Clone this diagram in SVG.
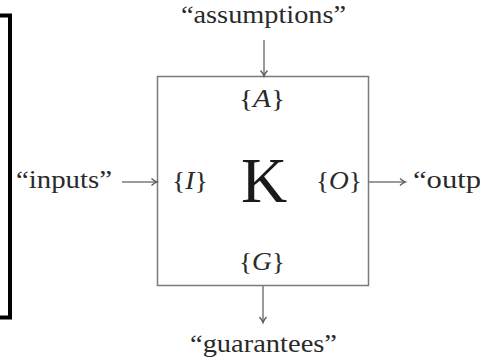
<svg xmlns="http://www.w3.org/2000/svg" width="480" height="359" viewBox="0 0 480 359">
<style>
.lbl{font-family:"Liberation Serif","DejaVu Serif",serif;font-size:25px;fill:#2a2a2a}
.m{font-style:italic}
.ln{stroke:#7a7a7a;stroke-width:1.5;fill:none}
</style>
<defs>
<marker id="ah" markerWidth="10" markerHeight="10" refX="6" refY="5" orient="auto" markerUnits="userSpaceOnUse">
<path d="M1,1.5 Q4,4.2 6.5,5 Q4,5.8 1,8.5" fill="none" stroke="#555" stroke-width="1.3"/>
</marker>
</defs>
<rect width="480" height="359" fill="#fff"/>
<g id="bracket">
<path d="M0,15.5 H10 V317.5 H0" fill="none" stroke="#000" stroke-width="4"/>
</g>
<g id="K">
<rect class="ln" x="157.5" y="76.5" width="211" height="209"/>
<text class="lbl" x="262" y="107" text-anchor="middle" textLength="46" lengthAdjust="spacingAndGlyphs">{<tspan class="m">A</tspan>}</text>
<text class="lbl" x="190" y="189" text-anchor="middle" textLength="36" lengthAdjust="spacingAndGlyphs">{<tspan class="m">I</tspan>}</text>
<text class="lbl" x="339" y="189" text-anchor="middle" textLength="46" lengthAdjust="spacingAndGlyphs">{<tspan class="m">O</tspan>}</text>
<text class="lbl" x="262" y="270" text-anchor="middle" textLength="46" lengthAdjust="spacingAndGlyphs">{<tspan class="m">G</tspan>}</text>
<text x="264" y="202" text-anchor="middle" font-family="Liberation Serif, DejaVu Serif, serif" font-size="64" fill="#1a1a1a">K</text>
</g>
<g id="assumptions"><text class="lbl" x="263.5" y="23" text-anchor="middle" textLength="165" lengthAdjust="spacingAndGlyphs">“assumptions”</text></g>
<g id="inputs"><text class="lbl" x="16" y="188" textLength="96" lengthAdjust="spacingAndGlyphs">“inputs”</text></g>
<g id="outputs"><text class="lbl" x="413" y="188" font-size="26" textLength="68" lengthAdjust="spacingAndGlyphs">“outp</text></g>
<g id="guarantees"><text class="lbl" x="263.5" y="352" text-anchor="middle" textLength="147" lengthAdjust="spacingAndGlyphs">“guarantees”</text></g>
<g id="connectors">
<line class="ln" x1="264" y1="40" x2="264" y2="75.5" marker-end="url(#ah)"/>
<line class="ln" x1="122" y1="182" x2="156.5" y2="182" marker-end="url(#ah)"/>
<line class="ln" x1="369" y1="182" x2="405" y2="182" marker-end="url(#ah)"/>
<line class="ln" x1="263" y1="286" x2="263" y2="322" marker-end="url(#ah)"/>
</g>
</svg>
